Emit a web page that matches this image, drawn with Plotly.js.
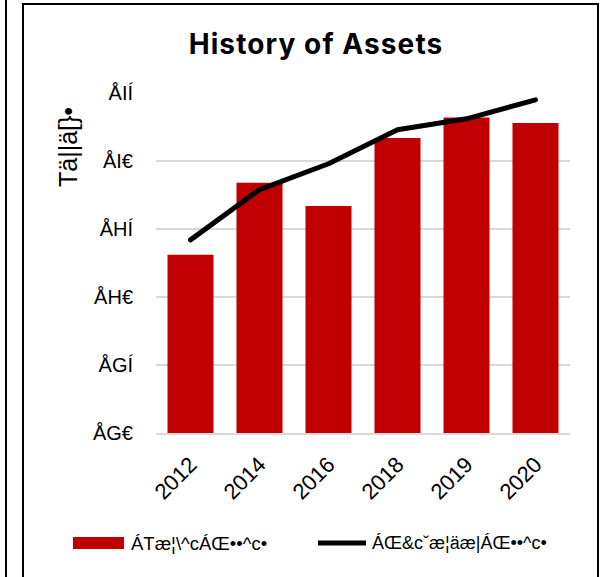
<!DOCTYPE html>
<html>
<head>
<meta charset="utf-8">
<script src="https://cdn.plot.ly/plotly-3.0.1.min.js"></script>
<style>
  html, body { margin: 0; padding: 0; background: #ffffff; }
  #wrap { position: relative; width: 603px; height: 577px; overflow: hidden; background: #fff; }
  #outerLine { position: absolute; left: 5px; top: 0; width: 2px; height: 577px; background: #000; }
  #box { position: absolute; left: 22px; top: 3px; width: 573px; height: 600px; border: 2px solid #000; }
  #chart { position: absolute; left: 0; top: 0; width: 603px; height: 577px; }
  .scatterlayer path.js-line { stroke-linecap: round; stroke-linejoin: round; }
  .gtitle { letter-spacing: 1.1px; }
</style>
</head>
<body>
<div id="wrap">
  <div id="outerLine"></div>
  <div id="box"></div>
  <div id="chart"></div>
</div>
<script>
// ---- data ----
const years = ["2012", "2014", "2016", "2018", "2019", "2020"];
const marketAssets = [23.1, 28.4, 26.7, 31.7, 33.2, 32.8];
const actuarialAssets = [24.2, 27.9, 29.8, 32.3, 33.1, 34.5];
const yTickValues = [10, 15, 20, 25, 30, 35];
const yTickLabels = ["ÅG€", "ÅGÍ", "ÅH€", "ÅHÍ", "ÅI€", "ÅIÍ"];
const chartTitle = "History of Assets";
const yTitle = "Tä||ä[}•";
const marketName = "ÁTæ¦\\^cÁŒ••^c•";
const actuarialName = "ÁŒ&cˇæ¦äæ|ÁŒ••^c•";

// ---- layout helpers (plot area in pixels) ----
const L = 156, R = 570, T = 93, B = 433;
const px = x => (x - L) / (R - L);
const py = y => (B - y) / (B - T);
const narrow = "Liberation Sans, Arial, sans-serif";
const arial = "Liberation Sans, Arial, sans-serif";

const traces = [
  {
    type: "bar",
    x: years,
    y: marketAssets,
    name: marketName,
    marker: { color: "#C00000" },
    hoverinfo: "skip"
  },
  {
    type: "scatter",
    mode: "lines",
    x: years,
    y: actuarialAssets,
    name: actuarialName,
    line: { color: "#000000", width: 5 },
    hoverinfo: "skip"
  }
];

const layout = {
  width: 603,
  height: 577,
  paper_bgcolor: "rgba(0,0,0,0)",
  plot_bgcolor: "rgba(0,0,0,0)",
  margin: { l: L, r: 603 - R, t: T, b: 577 - B, pad: 0 },
  showlegend: false,
  bargap: 0.333,
  title: {
    text: "<b>" + chartTitle + "</b>",
    font: { family: "Inter, Open Sans, sans-serif", size: 28, color: "#000" },
    xref: "container", yref: "container",
    x: 316 / 603, xanchor: "center",
    y: 1 - 44 / 577, yanchor: "middle"
  },
  xaxis: {
    type: "category",
    tickangle: -45,
    tickfont: { family: arial, size: 22, color: "#000" },
    showline: true, linecolor: "#d9d9d9", linewidth: 2,
    ticks: "outside", ticklen: 8, tickcolor: "rgba(0,0,0,0)",
    showgrid: false, zeroline: false
  },
  yaxis: {
    range: [10, 35],
    tickvals: yTickValues,
    ticktext: yTickLabels,
    tickfont: { family: narrow, size: 20, color: "#000" },
    showgrid: true, gridcolor: "#d9d9d9", gridwidth: 2,
    ticks: "outside", ticklen: 18, tickcolor: "rgba(0,0,0,0)",
    zeroline: false, showline: false
  },
  shapes: [
    { type: "rect", xref: "paper", yref: "paper",
      x0: px(73), x1: px(124), y0: py(549), y1: py(537),
      fillcolor: "#C00000", line: { width: 0 } },
    { type: "line", xref: "paper", yref: "paper",
      x0: px(318), x1: px(366), y0: py(543), y1: py(543),
      line: { color: "#000", width: 5 } }
  ],
  annotations: [
    { text: yTitle, xref: "paper", yref: "paper", x: px(68), y: py(147),
      xanchor: "center", yanchor: "middle", textangle: -90, showarrow: false,
      font: { family: narrow, size: 25, color: "#000" } },
    { text: marketName, xref: "paper", yref: "paper", x: px(129), y: py(543),
      xanchor: "left", yanchor: "middle", showarrow: false,
      font: { family: narrow, size: 18.5, color: "#000" } },
    { text: actuarialName, xref: "paper", yref: "paper", x: px(370), y: py(543),
      xanchor: "left", yanchor: "middle", showarrow: false,
      font: { family: narrow, size: 18, color: "#000" } }
  ]
};

Plotly.newPlot("chart", traces, layout, { displayModeBar: false, staticPlot: true });
</script>
</body>
</html>
